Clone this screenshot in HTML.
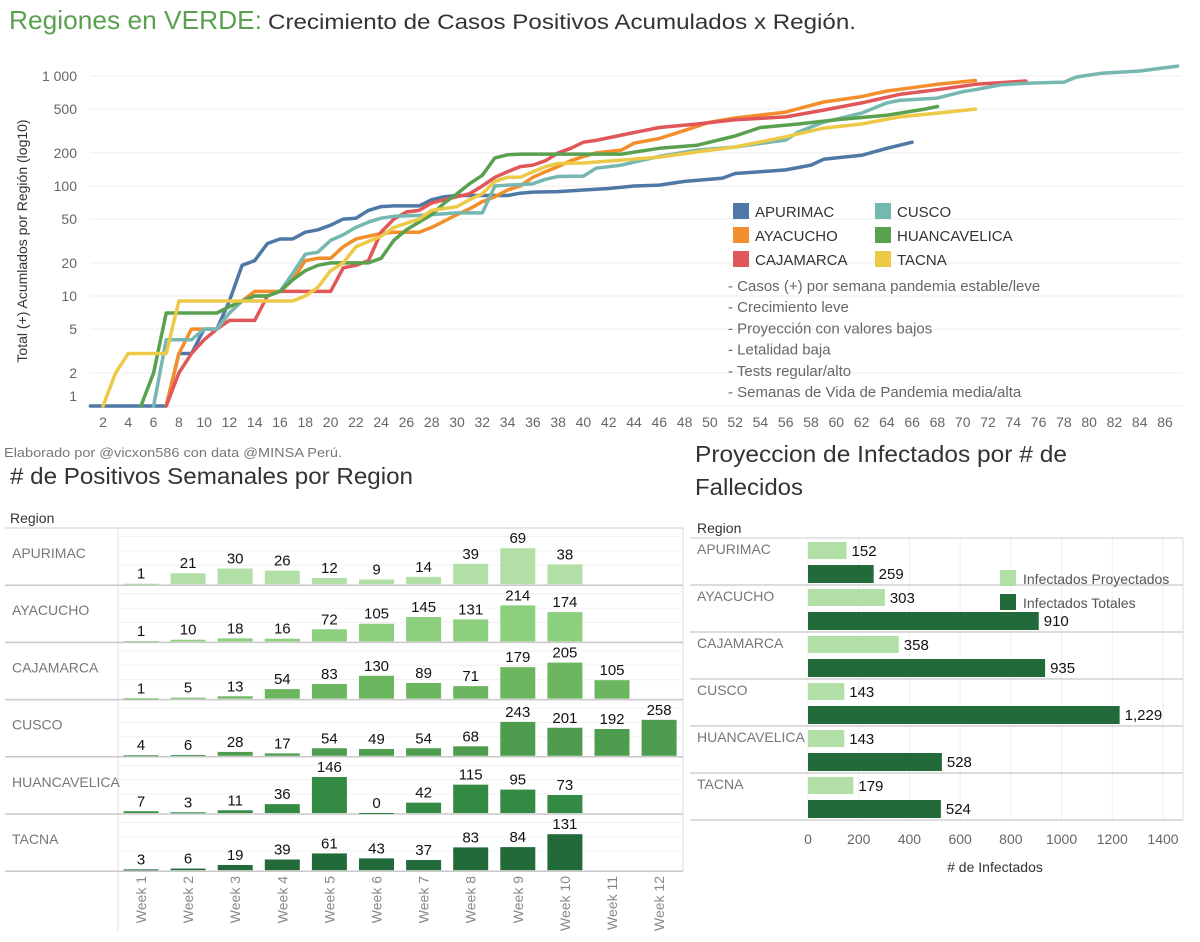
<!DOCTYPE html>
<html><head><meta charset="utf-8">
<style>
html,body{margin:0;padding:0;background:#fff;}
svg{display:block;font-family:"Liberation Sans",sans-serif;}
</style></head>
<body>
<svg id="root" width="1200" height="942" viewBox="0 0 1200 942" xmlns="http://www.w3.org/2000/svg">
<text x="9" y="29" font-size="26" fill="#59a14f" textLength="253" lengthAdjust="spacingAndGlyphs">Regiones en VERDE:</text>
<text x="268" y="29" font-size="21" fill="#333" textLength="588" lengthAdjust="spacingAndGlyphs">Crecimiento de Casos Positivos Acumulados x Región.</text>
<g id="line-chart"></g>
<text x="4" y="457" font-size="13" fill="#777" textLength="338" lengthAdjust="spacingAndGlyphs">Elaborado por @vicxon586 con data @MINSA Perú.</text>
<text x="10" y="484" font-size="23" fill="#333" textLength="403" lengthAdjust="spacingAndGlyphs"># de Positivos Semanales por Region</text>
<text x="10" y="523" font-size="14" fill="#333">Region</text>
<g id="week-chart"></g>
<text x="695" y="462" font-size="23" fill="#333" textLength="372" lengthAdjust="spacingAndGlyphs">Proyeccion de Infectados por # de</text>
<text x="695" y="495" font-size="23" fill="#333" textLength="108" lengthAdjust="spacingAndGlyphs">Fallecidos</text>
<text x="697" y="533" font-size="14" fill="#333">Region</text>
<g id="proj-chart"></g>
</svg>
<script>
// ===== Line chart data =====
const lineRegions = ["APURIMAC","AYACUCHO","CAJAMARCA","CUSCO","HUANCAVELICA","TACNA"];
const lineColors = ["#4e79a7","#f28e2b","#e15759","#76b7b2","#59a14f","#edc948"];
const apurimacDays = [1,7,8,9,10,11,12,13,14,15,16,17,18,19,20,21,22,23,24,25,27,28,29,30,34,35,36,38,40,42,44,46,48,50,51,52,54,56,58,59,60,62,64,66];
const apurimacVals = [0,0,3,3,5,5,9,19,21,30,33,33,38,40,44,50,51,60,65,66,66,75,80,82,82,86,88,89,92,95,100,102,110,115,118,130,135,140,155,175,180,190,220,250];
const ayacuchoDays = [7,8,9,10,11,12,13,14,15,16,17,18,19,20,21,22,23,24,25,27,28,29,30,31,32,33,34,35,36,37,38,39,40,41,43,44,46,48,50,52,56,59,62,64,68,71];
const ayacuchoVals = [0,3,5,5,5,7,9,11,11,11,14,21,22,22,28,33,35,37,38,38,42,48,55,62,72,80,92,100,120,135,150,170,185,200,212,245,270,320,380,415,470,580,650,730,840,910];
const cajamarcaDays = [7,8,9,10,11,12,14,15,16,20,21,22,23,24,25,26,27,28,29,30,31,32,33,34,35,36,37,38,39,40,41,43,46,49,52,56,59,62,65,68,71,75];
const cajamarcaVals = [0,2,3,4,5,6,6,10,11,11,18,19,21,38,50,58,60,70,75,80,85,100,120,135,150,155,170,200,220,250,260,290,340,366,400,425,490,570,680,750,840,900];
const cuscoDays = [6,7,9,10,11,12,13,14,15,16,17,18,19,20,21,22,23,24,25,27,28,30,32,33,34,35,36,37,38,40,41,43,46,49,52,56,57,59,62,64,65,68,70,71,73,75,78,79,81,84,87];
const cuscoVals = [0,4,4,5,5,7,9,10,10,11,16,24,25,32,36,42,47,51,53,54,55,57,57,100,102,103,105,115,122,123,145,155,186,212,226,262,310,380,460,570,600,630,720,750,830,860,880,980,1060,1110,1229];
const huancaDays = [5,6,7,11,12,13,14,15,16,17,18,19,20,23,24,25,26,27,28,29,30,31,32,33,34,35,41,43,46,49,52,54,57,60,64,67,68];
const huancaVals = [0,2,7,7,8,9,10,10,11,14,17,19,20,20,22,32,40,47,55,70,85,105,125,180,192,195,195,195,220,235,285,340,366,400,440,500,528];
const tacnaDays = [2,3,4,7,8,17,18,19,20,21,22,24,25,27,28,30,31,32,33,34,35,36,37,38,40,43,46,49,52,56,59,62,65,68,71];
const tacnaVals = [0,2,3,3,9,9,10,12,17,20,28,35,42,50,60,65,75,85,110,120,120,135,150,160,162,172,183,204,226,280,336,366,425,460,500];
const lineDays = [apurimacDays,ayacuchoDays,cajamarcaDays,cuscoDays,huancaDays,tacnaDays];
const lineVals = [apurimacVals,ayacuchoVals,cajamarcaVals,cuscoVals,huancaVals,tacnaVals];
const yTickVals = [1,2,5,10,20,50,100,200,500,1000];
const yTickLabels = ["1","2","5","10","20","50","100","200","500","1 000"];
const xTickVals = [2,4,6,8,10,12,14,16,18,20,22,24,26,28,30,32,34,36,38,40,42,44,46,48,50,52,54,56,58,60,62,64,66,68,70,72,74,76,78,80,82,84,86];
const notes = ["- Casos (+) por semana pandemia estable/leve","- Crecimiento leve","- Proyección con valores bajos","- Letalidad baja","- Tests regular/alto","- Semanas de Vida de Pandemia media/alta"];

// ===== Weekly bars data =====
const weekRegions = ["APURIMAC","AYACUCHO","CAJAMARCA","CUSCO","HUANCAVELICA","TACNA"];
const weekLabels = ["Week 1","Week 2","Week 3","Week 4","Week 5","Week 6","Week 7","Week 8","Week 9","Week 10","Week 11","Week 12"];
const apurimacWeekly = [1,21,30,26,12,9,14,39,69,38,null,null];
const ayacuchoWeekly = [1,10,18,16,72,105,145,131,214,174,null,null];
const cajamarcaWeekly = [1,5,13,54,83,130,89,71,179,205,105,null];
const cuscoWeekly = [4,6,28,17,54,49,54,68,243,201,192,258];
const huancaWeekly = [7,3,11,36,146,0,42,115,95,73,null,null];
const tacnaWeekly = [3,6,19,39,61,43,37,83,84,131,null,null];
const weeklySeries = [apurimacWeekly,ayacuchoWeekly,cajamarcaWeekly,cuscoWeekly,huancaWeekly,tacnaWeekly];
const weekColors = ["#b2dfa6","#8ccf7e","#6bb65f","#4e9d4f","#338a43","#236a3b"];

// ===== Projection data =====
const projRegions = ["APURIMAC","AYACUCHO","CAJAMARCA","CUSCO","HUANCAVELICA","TACNA"];
const projProjected = [152,303,358,143,143,179];
const projTotal = [259,910,935,1229,528,524];
const projTicks = [0,200,400,600,800,1000,1200,1400];

const NS = "http://www.w3.org/2000/svg";
function mk(tag, attrs, parent){const e=document.createElementNS(NS,tag);for(const k in attrs)e.setAttribute(k,attrs[k]);parent.appendChild(e);return e;}

// ---- Line chart ----
(function(){
  const g=document.getElementById('line-chart');
  const x=d=>103+(d-2)*(1165-103)/84;
  const y=v=>406-Math.log10(Math.max(v,1))*110;
  yTickVals.forEach((v,i)=>{
    const ln=mk('line',{x1:90,x2:1182,y1:y(v),y2:y(v),stroke:'#eeeeee','stroke-width':1},g);
    
    
    const t=mk('text',{x:77,y:(v===1?y(v)-5:y(v)+5),'font-size':14,fill:'#666','text-anchor':'end'},g);
    t.textContent=yTickLabels[i];
    
    
  });
  xTickVals.forEach(d=>{
    const t=mk('text',{x:x(d),y:427,'font-size':14,fill:'#666','text-anchor':'middle'},g);
    t.textContent=d;
    
    
  });
  const yt=mk('text',{x:0,y:0,'font-size':14,fill:'#333','text-anchor':'middle',transform:'translate(27,241) rotate(-90)'},g);
  yt.textContent='Total (+) Acumlados por Región (log10)';
  
  
  lineDays.forEach((days,i)=>{
    const vals=lineVals[i];
    const pts=days.map((d,j)=>x(d).toFixed(1)+','+y(vals[j]).toFixed(1)).join(' ');
    const p=mk('polyline',{points:pts,fill:'none',stroke:lineColors[i],'stroke-width':3.5,'stroke-linejoin':'round','stroke-linecap':'round'},g);
    
    
  });
  lineRegions.forEach((r,i)=>{
    const col=Math.floor(i/3), row=i%3;
    const lx=[733,875][col];
    const ly=203+row*24;
    const s=mk('rect',{x:lx,y:ly,width:16,height:16,fill:lineColors[i]},g);
    
    
    const t=mk('text',{x:lx+22,y:ly+14,'font-size':15,fill:'#333'},g);
    t.textContent=r;
    
    
  });
  notes.forEach((n,i)=>{
    const t=mk('text',{x:728,y:291+i*21.2,'font-size':15,fill:'#666'},g);
    t.textContent=n;
    
    
  });
})();

// ---- Weekly bars ----
(function(){
  const g=document.getElementById('week-chart');
  const top=528, rowH=57.2, left=118, right=683;
  const xc=i=>141+i*47.1;
  const maxH=36;
  mk('line',{x1:5,x2:right,y1:top,y2:top,stroke:'#ccc'},g);
  mk('line',{x1:left,x2:left,y1:top,y2:top+rowH*6+60,stroke:'#ddd'},g);
  mk('line',{x1:right,x2:right,y1:top,y2:top+rowH*6,stroke:'#ddd'},g);
  weekRegions.forEach((r,ri)=>{
    const base=top+(ri+1)*rowH;
    const vals=weeklySeries[ri];
    const mx=Math.max(...vals.filter(v=>v!==null));
    [0.15,0.4,0.65].forEach(f=>{
      const gl=mk('line',{x1:left,x2:right,y1:base-rowH*(1-f),y2:base-rowH*(1-f),stroke:'#f0f0f0'},g);
      
      
    });
    const sep=mk('line',{x1:5,x2:right,y1:base,y2:base,stroke:'#c8c8c8','stroke-width':1.5},g);
    
    
    const lab=mk('text',{x:12,y:top+ri*rowH+30,'font-size':14,fill:'#777'},g);
    lab.textContent=r;
    
    
    vals.forEach((v,wi)=>{
      if(v===null) return;
      const h=v/mx*maxH;
      const b=mk('rect',{x:xc(wi)-17.5,y:base-h-1,width:35,height:Math.max(h,1),fill:weekColors[ri]},g);
      
      
      const t=mk('text',{x:xc(wi),y:base-h-6,'font-size':15,fill:'#111','text-anchor':'middle'},g);
      t.textContent=v;
      
      
    });
  });
  weekLabels.forEach((w,i)=>{
    const t=mk('text',{x:0,y:0,'font-size':14,fill:'#888','text-anchor':'end',transform:`translate(${xc(i)+5},876) rotate(-90)`},g);
    t.textContent=w;
    
    
  });
})();

// ---- Projection bars ----
(function(){
  const g=document.getElementById('proj-chart');
  const top=538,rowH=47, x0=808, sc=(1163-808)/1400, right=1183;
  const x=v=>x0+v*sc;
  projTicks.forEach(v=>{
    const gl=mk('line',{x1:x(v),x2:x(v),y1:top,y2:top+rowH*6,stroke:'#eeeeee'},g);
    
    
    const t=mk('text',{x:x(v),y:844,'font-size':14,fill:'#666','text-anchor':'middle'},g);
    t.textContent=v;
    
    
  });
  mk('line',{x1:690,x2:right,y1:top,y2:top,stroke:'#ccc'},g);
  mk('line',{x1:right,x2:right,y1:top,y2:top+rowH*6,stroke:'#ddd'},g);
  projRegions.forEach((r,i)=>{
    const ry=top+i*rowH;
    const sep=mk('line',{x1:690,x2:right,y1:ry+rowH,y2:ry+rowH,stroke:'#c8c8c8','stroke-width':1.2},g);
    
    
    const lab=mk('text',{x:697,y:ry+16,'font-size':14,fill:'#777'},g);
    lab.textContent=r;
    
    
    const b1=mk('rect',{x:x0,y:ry+4,width:x(projProjected[i])-x0,height:17,fill:'#b2dfa6'},g);
    
    
    const t1=mk('text',{x:x(projProjected[i])+5,y:ry+18,'font-size':15,fill:'#111'},g);
    t1.textContent=projProjected[i].toLocaleString('en-US');
    
    
    const b2=mk('rect',{x:x0,y:ry+27,width:x(projTotal[i])-x0,height:18,fill:'#236a3b'},g);
    
    
    const t2=mk('text',{x:x(projTotal[i])+5,y:ry+41,'font-size':15,fill:'#111'},g);
    t2.textContent=projTotal[i].toLocaleString('en-US');
    
    
  });
  const at=mk('text',{x:995,y:872,'font-size':14,fill:'#333','text-anchor':'middle'},g);
  at.textContent='# de Infectados';
  
  
  const ls=[['#b2dfa6','Infectados Proyectados',570],['#236a3b','Infectados Totales',594]];
  ls.forEach(l=>{
    const s=mk('rect',{x:1000,y:l[2],width:16,height:16,fill:l[0]},g);
    
    
    const t=mk('text',{x:1023,y:l[2]+14,'font-size':14,fill:'#555'},g);
    t.textContent=l[1];
    
    
  });
})();
</script>
</body></html>
